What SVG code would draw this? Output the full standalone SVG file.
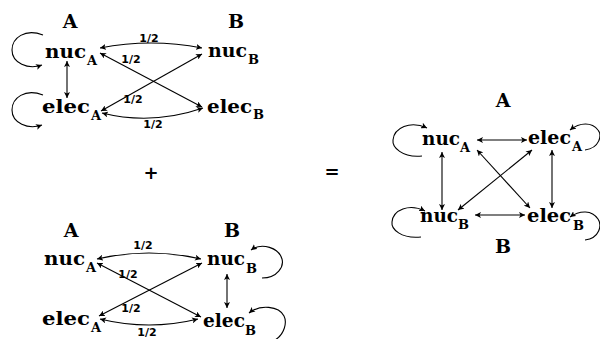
<svg xmlns="http://www.w3.org/2000/svg" width="600" height="339" viewBox="0 0 600 339">
<style>
.lbl{font-family:"DejaVu Serif","Liberation Serif",serif;font-weight:bold;font-size:19px;fill:#000}
.nd{font-family:"DejaVu Serif","Liberation Serif",serif;font-weight:bold;font-size:19px;fill:#000}
.sub{font-family:"DejaVu Serif","Liberation Serif",serif;font-weight:bold;font-size:13px;fill:#000}
.frac{font-family:"DejaVu Sans","Liberation Sans",sans-serif;font-weight:bold;font-size:11px;fill:#000;text-anchor:middle}
.op{font-family:"DejaVu Sans","Liberation Sans",sans-serif;font-weight:bold;font-size:18px;fill:#000;text-anchor:middle}
.e{fill:none;stroke:#000;stroke-width:1.1}
.b{marker-start:url(#ah);marker-end:url(#ah)}
.s{marker-end:url(#ah)}
</style>
<defs>
<marker id="ah" viewBox="0 0 6 6" refX="6" refY="3" markerWidth="6" markerHeight="6" markerUnits="userSpaceOnUse" orient="auto-start-reverse">
<path d="M0,0 L6,3 L0,6 L1.5,3 z" fill="#000"/>
</marker>
</defs>

<!-- Top-left diagram -->
<g id="top-labels">
<text class="lbl" x="70" y="28" text-anchor="middle">A</text>
<text class="lbl" x="236" y="28" text-anchor="middle">B</text>
</g>
<g id="t-nucA"><text class="nd" x="45" y="58" textLength="41" lengthAdjust="spacingAndGlyphs">nuc</text><text class="sub" x="87" y="65">A</text></g>
<g id="t-elecA"><text class="nd" x="42" y="113" textLength="48" lengthAdjust="spacingAndGlyphs">elec</text><text class="sub" x="91" y="120">A</text></g>
<g id="t-nucB"><text class="nd" x="208" y="57" textLength="39" lengthAdjust="spacingAndGlyphs">nuc</text><text class="sub" x="248" y="64">B</text></g>
<g id="t-elecB"><text class="nd" x="207" y="113" textLength="45" lengthAdjust="spacingAndGlyphs">elec</text><text class="sub" x="253" y="119">B</text></g>

<g id="t-edges">
<path class="e s" d="M43,35 C25,28 12,38 12,50 C12,63 28,70 42,65"/>
<path class="e s" d="M43,95 C25,88 12,98 12,110 C12,123 28,130 42,125"/>
<path class="e b" d="M67,61 L67,98"/>
<path class="e b" d="M100,48 Q151,38 202,48"/>
<path class="e b" d="M100,53 L202,107"/>
<path class="e b" d="M101,111 L202,54"/>
<path class="e b" d="M102,113 Q152,125.5 203,108"/>
<text class="frac" x="149" y="42">1/2</text>
<text class="frac" x="131" y="63">1/2</text>
<text class="frac" x="133" y="103">1/2</text>
<text class="frac" x="153" y="128">1/2</text>
</g>

<g id="ops">
<text class="op" x="151" y="179">+</text>
<text class="op" x="332" y="178">=</text>
</g>

<!-- Bottom-left diagram -->
<g id="bottom-labels">
<text class="lbl" x="71" y="237" text-anchor="middle">A</text>
<text class="lbl" x="232" y="237" text-anchor="middle">B</text>
</g>
<g id="b-nucA"><text class="nd" x="44" y="265" textLength="41" lengthAdjust="spacingAndGlyphs">nuc</text><text class="sub" x="86" y="272">A</text></g>
<g id="b-elecA"><text class="nd" x="42" y="325" textLength="48" lengthAdjust="spacingAndGlyphs">elec</text><text class="sub" x="91" y="332">A</text></g>
<g id="b-nucB"><text class="nd" x="207" y="265" textLength="38" lengthAdjust="spacingAndGlyphs">nuc</text><text class="sub" x="246" y="273">B</text></g>
<g id="b-elecB"><text class="nd" x="203" y="327" textLength="42" lengthAdjust="spacingAndGlyphs">elec</text><text class="sub" x="245" y="335">B</text></g>

<g id="b-edges">
<path class="e s" d="M262,278 C278,278 284,266 282,259 C279,248 262,242 251,250"/>
<path class="e s" d="M275,340 C285,334 287,322 284,316 C279,306 260,304 249,313"/>
<path class="e b" d="M227,274 L227,308"/>
<path class="e b" d="M97,259 Q149,247 201,259"/>
<path class="e b" d="M97,263 L201,317"/>
<path class="e b" d="M99,316 L202,263"/>
<path class="e b" d="M100,319 Q149,331 198,319"/>
<text class="frac" x="143" y="249">1/2</text>
<text class="frac" x="128" y="278">1/2</text>
<text class="frac" x="131" y="312">1/2</text>
<text class="frac" x="147" y="336">1/2</text>
</g>

<!-- Right diagram -->
<g id="right-labels">
<text class="lbl" x="503" y="107" text-anchor="middle">A</text>
<text class="lbl" x="503" y="253" text-anchor="middle">B</text>
</g>
<g id="r-nucA"><text class="nd" x="422" y="145" textLength="38" lengthAdjust="spacingAndGlyphs">nuc</text><text class="sub" x="460" y="152">A</text></g>
<g id="r-elecA"><text class="nd" x="528" y="144" textLength="43" lengthAdjust="spacingAndGlyphs">elec</text><text class="sub" x="572" y="151">A</text></g>
<g id="r-nucB"><text class="nd" x="420" y="222" textLength="38" lengthAdjust="spacingAndGlyphs">nuc</text><text class="sub" x="458" y="229">B</text></g>
<g id="r-elecB"><text class="nd" x="527" y="222" textLength="44" lengthAdjust="spacingAndGlyphs">elec</text><text class="sub" x="573" y="230">B</text></g>

<g id="r-edges">
<path class="e s" d="M422,156 C402,158 392,147 393,140 C394,128 410,120 427,128"/>
<path class="e s" d="M421,237 C401,239 391,229 392,222 C393,210 409,203 425,211"/>
<path class="e s" d="M585,150 C600,148 602,135 598,130 C592,122 580,122 570,130"/>
<path class="e s" d="M585,240 C600,238 602,225 598,219 C592,210 580,210 570,217"/>
<path class="e b" d="M477,140 L527,140"/>
<path class="e b" d="M475,215 L525,215"/>
<path class="e b" d="M442,152 L442,210"/>
<path class="e b" d="M552,150 L552,208"/>
<path class="e b" d="M477,150 L530,208"/>
<path class="e b" d="M532,150 L458,210"/>
</g>
</svg>
